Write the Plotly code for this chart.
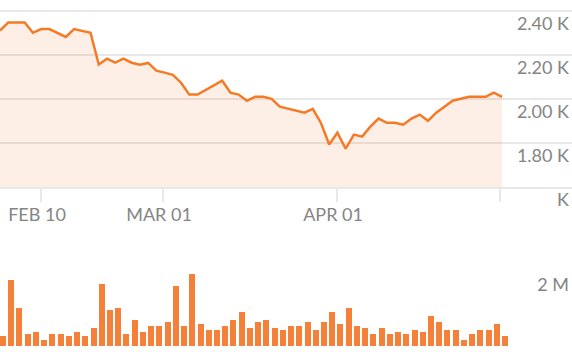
import plotly.graph_objects as go

# Price (line) values, one per trading day
price = [2311, 2348, 2348, 2348, 2301, 2318, 2318, 2299, 2282, 2318,
         2309, 2301, 2157, 2183, 2165, 2183, 2165, 2156, 2164, 2129,
         2120, 2110, 2074, 2020, 2020, 2041, 2061, 2083, 2029, 2020,
         1992, 2010, 2010, 2001, 1965, 1956, 1947, 1938, 1955, 1891,
         1793, 1847, 1774, 1838, 1829, 1874, 1911, 1892, 1892, 1883,
         1911, 1929, 1901, 1938, 1965, 1992, 2001, 2010, 2010, 2010,
         2029, 2010]

# Volume values (millions)
volume = [0.27, 1.78, 1.03, 0.32, 0.38, 0.16, 0.32, 0.32, 0.27, 0.38,
          0.27, 0.49, 1.68, 0.97, 1.03, 0.32, 0.70, 0.38, 0.54, 0.54,
          0.65, 1.62, 0.54, 1.95, 0.59, 0.43, 0.43, 0.54, 0.70, 0.92,
          0.49, 0.65, 0.70, 0.49, 0.43, 0.54, 0.54, 0.65, 0.43, 0.65,
          0.92, 0.59, 1.03, 0.54, 0.49, 0.32, 0.49, 0.32, 0.38, 0.32,
          0.43, 0.38, 0.81, 0.65, 0.43, 0.43, 0.16, 0.32, 0.43, 0.43,
          0.59, 0.27]

x_tick_pos = [4.98, 19.81, 40.95, 60.75]
x_tick_text = ["FEB 10", "MAR 01", "APR 01", ""]
y_tick_vals = [1600, 1800, 2000, 2200, 2400]
y_tick_text = ["K", "1.80 K", "2.00 K", "2.20 K", "2.40 K"]
vol_tick_vals = [2]
vol_tick_text = ["2 M"]

idx = list(range(len(price)))

LINE = "#F47A25"
BAR = "#F5803A"
GRID = "#E8E8E8"
TXT = "#858585"
FONT = "Lato"

fig = go.Figure()
fig.add_trace(go.Scatter(
    x=idx, y=price, mode="lines",
    line=dict(color=LINE, width=2.5),
    fill="tozeroy", fillcolor="rgba(245,125,50,0.12)",
    xaxis="x", yaxis="y", hoverinfo="skip"))
fig.add_trace(go.Bar(
    x=idx, y=volume, marker=dict(color=BAR, line=dict(width=0)),
    offset=0, width=0.73,
    xaxis="x", yaxis="y2", hoverinfo="skip"))

fig.update_layout(
    width=572, height=356,
    margin=dict(l=0, r=0, t=0, b=0, autoexpand=False),
    paper_bgcolor="white", plot_bgcolor="white",
    showlegend=False,
    font=dict(family=FONT, size=18, color=TXT),
    xaxis=dict(
        domain=[0, 1], range=[0, 572 / 8.23], anchor="y", automargin=False,
        showgrid=False, zeroline=False,
        showline=True, linecolor=GRID, linewidth=2,
        tickmode="array", tickvals=x_tick_pos, ticktext=x_tick_text,
        ticks="outside", ticklen=13, tickwidth=2, tickcolor=GRID,
        ticklabelshift=-4, ticklabelstandoff=-3,
        tickfont=dict(family=FONT, size=18, color=TXT),
    ),
    yaxis=dict(
        domain=[1 - 187 / 356, 1], range=[1600, 2450], anchor="x",
        automargin=False,
        side="right", showgrid=True, gridcolor=GRID, gridwidth=2,
        zeroline=False, showline=False,
        tickmode="array", tickvals=y_tick_vals, ticktext=y_tick_text,
        ticks="", ticklabelposition="inside bottom", ticklabeloverflow="allow",
        tickfont=dict(family=FONT, size=18, color=TXT),
    ),
    yaxis2=dict(
        domain=[10 / 356, 126 / 356], range=[0, 116 / 37], anchor="x",
        automargin=False,
        side="right", showgrid=False, zeroline=False, showline=False,
        tickmode="array", tickvals=vol_tick_vals, ticktext=vol_tick_text,
        ticks="", ticklabelposition="inside bottom", ticklabeloverflow="allow",
        tickfont=dict(family=FONT, size=18, color=TXT),
    ),
    bargap=0,
)

fig.write_html("out.html")
